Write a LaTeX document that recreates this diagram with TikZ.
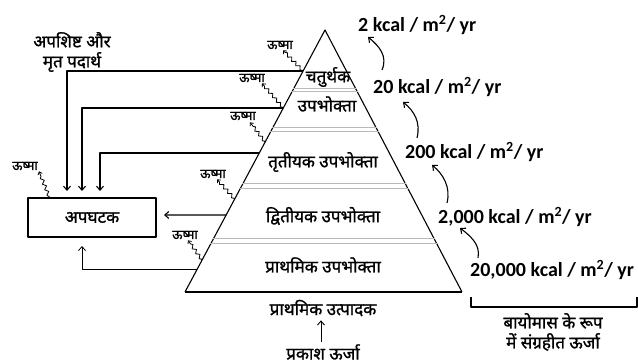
\documentclass[tikz,border=0pt]{standalone}
\usepackage{fontspec}
\setmainfont{Carlito}
\newfontfamily\dev[Script=Devanagari,FakeBold=1.2]{Noto Sans}
\usetikzlibrary{calc,decorations.pathmorphing,arrows.meta}
\begin{document}
\begin{tikzpicture}[x=1pt,y=-1pt,line join=round,
  edge/.style={line width=1.1pt},
  band/.style={line width=0.8pt,gray!55},
  flow/.style={line width=1.1pt,-{Straight Barb[length=4pt,width=7pt]}},
  heat/.style={line width=0.8pt,decorate,
     decoration={snake,amplitude=1.6pt,segment length=6pt,pre length=1pt,post length=3pt},
     -{Straight Barb[length=2.5pt,width=4.5pt]}},
  devlab/.style={font=\dev\fontsize{17}{19}\selectfont,inner sep=0pt},
  heatlab/.style={font=\dev\fontsize{13}{15}\selectfont,inner sep=0pt},
  enlab/.style={font=\bfseries\fontsize{20}{22}\selectfont,anchor=west,inner sep=0pt},
  curve/.style={line width=1.1pt,-{Straight Barb[length=4pt,width=7pt]}}
]
\useasboundingbox (0,0) rectangle (638,363);
% pyramid
\coordinate (A) at (325,30);
\coordinate (BL) at (185,292);
\coordinate (BR) at (462,292);
\draw[edge] (BL) -- (A) -- (BR);
\draw[line width=1.5pt] (BL) -- (BR);
% bands
\foreach \ya/\yb in {88/91,127/131,183/188,238/243}{
  \draw[band] ($(A)!{(\ya-30)/262}!(BL)+(-1,0)$) -- ($(A)!{(\ya-30)/262}!(BR)+(1,0)$);
  \draw[band] ($(A)!{(\yb-30)/262}!(BL)+(-1,0)$) -- ($(A)!{(\yb-30)/262}!(BR)+(1,0)$);
}
% layer labels
\node[devlab] (t4a) at (328,77) {चतुर्थक};
\node[devlab] (t4b) at (327,104) {उपभोक्ता};
\node[devlab] (t3) at (323,162) {तृतीयक उपभोक्ता};
\node[devlab] (t2) at (323,216) {द्वितीयक उपभोक्ता};
\node[devlab] (t1) at (323,265) {प्राथमिक उपभोक्ता};
\node[devlab] (prod) at (323,308) {प्राथमिक उत्पादक};
\node[devlab] (light) at (323,352) {प्रकाश ऊर्जा};
\draw[flow,line width=0.9pt] ($(light.north)+(-2,-2)$) -- ($(prod.south)+(-2,4)$);
% decomposer
\node[draw,line width=1.1pt,minimum width=128pt,minimum height=39pt,devlab] (dec) at (92,217.5) {अपघटक};
\node[devlab,align=center] (waste) at (72,52) {अपशिष्ट और\\[1pt]मृत पदार्थ};
% edge points
\coordinate (e1) at ($(A)!0.1565!(BL)$);
\coordinate (e2) at ($(A)!0.2977!(BL)$);
\coordinate (e3) at ($(A)!0.4695!(BL)$);
\coordinate (e4) at ($(A)!0.7061!(BL)$);
\coordinate (e5) at ($(A)!0.9122!(BL)$);
\coordinate (s3) at ($(A)!0.4275!(BL)$);
\coordinate (s4) at ($(A)!0.645!(BL)$);
\coordinate (s5) at ($(A)!0.878!(BL)$);
% feedback
\coordinate (v1) at (67,191);
\coordinate (v2) at (82,191);
\coordinate (v3) at (100,191);
\coordinate (v4) at (164,215);
\coordinate (v5) at (82,246);
\draw[flow] (e1) -| (v1);
\draw[flow] (e2) -| (v2);
\draw[flow] (e3) -| (v3);
\draw[flow] (e4) -- (v4);
\draw[flow,line width=0.8pt] (e5) -| (v5);
% heat
\node[heatlab] (h1) at (280,45) {ऊष्मा};
\node[heatlab] (h2) at (252,78) {ऊष्मा};
\node[heatlab] (h3) at (243,116) {ऊष्मा};
\node[heatlab] (h4) at (213,174) {ऊष्मा};
\node[heatlab] (h5) at (185,235) {ऊष्मा};
\node[heatlab] (h6) at (25,166) {ऊष्मा};
\draw[heat] (e1) -- ($(h1.south)+(3,1)$);
\draw[heat] (e2) -- ($(h2.south)+(10,1)$);
\draw[heat] (s3) -- ($(h3.south)+(7,2)$);
\draw[heat] (s4) -- ($(h4.south)+(4,1)$);
\draw[heat] (s5) -- ($(h5.south)+(3,1)$);
\draw[heat] ($(dec.north west)+(22,0)$) -- ($(h6.south)+(14,1)$);
% energy
\node[enlab] (r1) at (358,25) {2 kcal / m\textsuperscript{2}/ yr};
\node[enlab] (r2) at (373,87) {20 kcal / m\textsuperscript{2}/ yr};
\node[enlab] (r3) at (405,152) {200 kcal / m\textsuperscript{2}/ yr};
\node[enlab] (r4) at (438,217) {2,000 kcal / m\textsuperscript{2}/ yr};
\node[enlab] (r5) at (470,270) {20,000 kcal / m\textsuperscript{2}/ yr};
\draw[curve] ($(r2.west)+(9,-17)$) .. controls +(6,-14) and +(11,9) .. ($(r1.west)+(10,12)$);
\draw[curve] ($(r3.west)+(12,-14)$) .. controls +(4,-16) and +(11,9) .. ($(r2.west)+(30,15)$);
\draw[curve] ($(r4.west)+(9,-14)$) .. controls +(4,-16) and +(11,9) .. ($(r3.west)+(27,13)$);
\draw[curve] ($(r5.west)+(8,-12)$) .. controls +(3,-14) and +(9,7) .. ($(r4.west)+(22,11)$);
% bracket
\coordinate (br1) at (471,297);
\coordinate (br2) at (637,297);
\draw[line width=1.3pt] (br1) -- ++(0,10) -| (br2);
\node[devlab,align=center] (bio) at (553,332) {बायोमास के रूप\\[1pt]में संग्रहीत ऊर्जा};
\end{tikzpicture}
\end{document}
